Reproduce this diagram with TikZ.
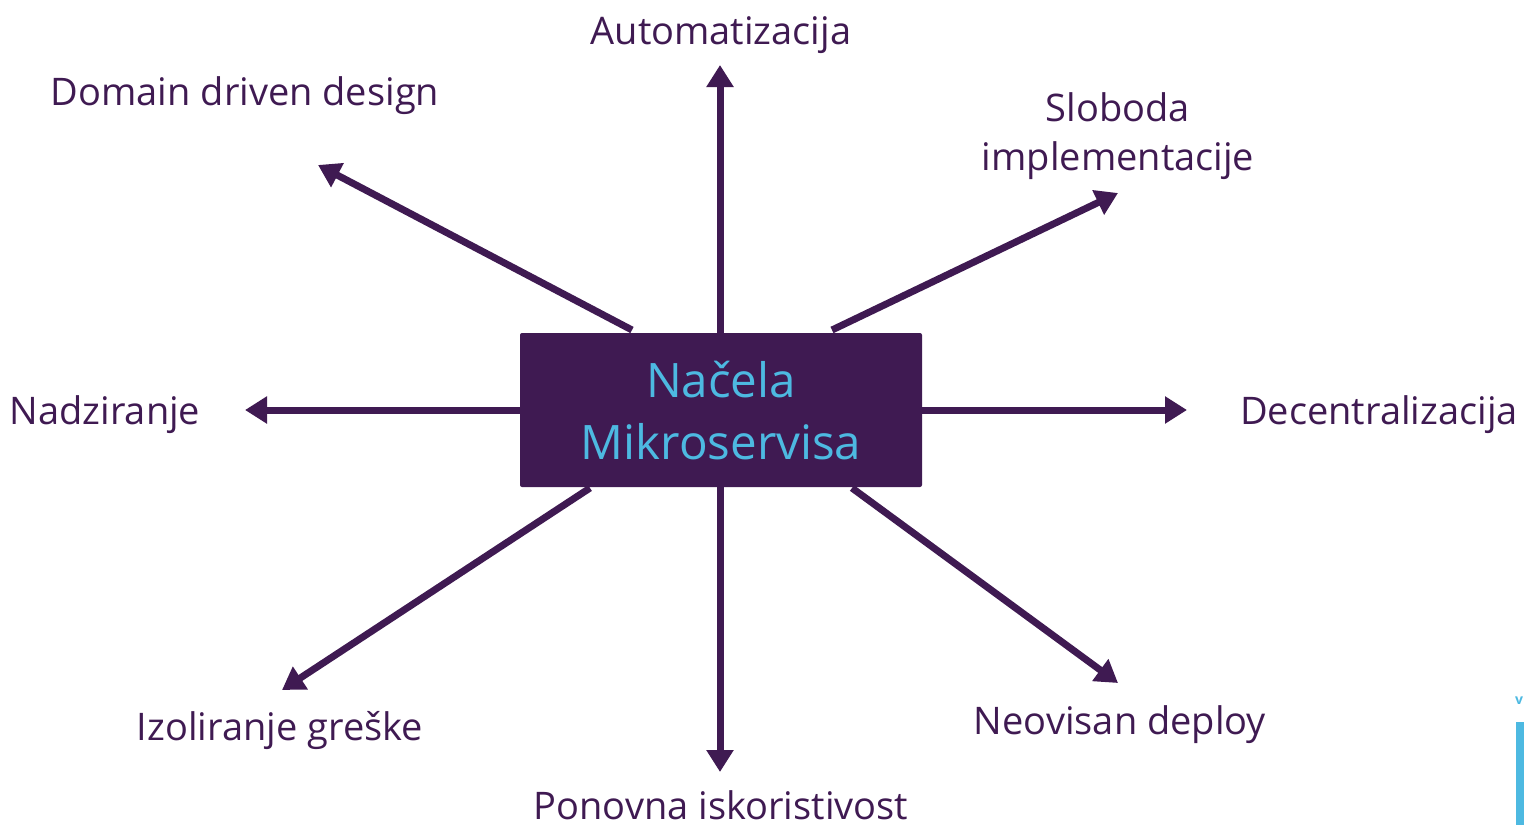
\documentclass[tikz,border=0pt]{standalone}
\usepackage{fontspec}
\setmainfont{Open Sans}
\usetikzlibrary{arrows.meta}
\definecolor{dpurple}{HTML}{3F1A52}
\definecolor{lblue}{HTML}{4DB9E1}
\begin{document}
\begin{tikzpicture}[x=1pt,y=-1pt,
  lbl/.style={font=\fontsize{38}{46}\selectfont, text=dpurple, anchor=base, inner sep=0pt, align=center},
  ctr/.style={font=\fontsize{47.5}{58}\selectfont, text=lblue, anchor=base, inner sep=0pt},
  arr/.style={draw=dpurple, line width=7pt, -{Triangle[length=22pt,width=26pt]}}]
\useasboundingbox (0,0) rectangle (1524,825);
\node[fill=dpurple, rounded corners=2pt, minimum width=402pt, minimum height=154pt, inner sep=0pt] (box) at (721,410) {};
\node[ctr] (t1) at (721,397) {Načela};
\node[ctr] (t2) at (721,459) {Mikroservisa};
% labels
\node[lbl] (auto) at (721,44) {Automatizacija};
\node[lbl] (ddd) at (245,105) {Domain driven design};
\node[lbl] (slob1) at (1118,121) {Sloboda};
\node[lbl] (slob2) at (1118,170) {implementacije};
\node[lbl] (nadz) at (105,424) {Nadziranje};
\node[lbl] (dec) at (1379,424) {Decentralizacija};
\node[lbl] (izol) at (280,740) {Izoliranje greške};
\node[lbl] (neo) at (1120,734) {Neovisan deploy};
\node[lbl] (pon) at (721,819) {Ponovna iskoristivost};
% coordinates
\coordinate (sN) at (720,333);
\coordinate (eN) at (720,65);
\coordinate (sNW) at (632,330);
\coordinate (eNW) at (318,165);
\coordinate (sNE) at (832,330);
\coordinate (eNE) at (1118,193);
\coordinate (sW) at (520,410);
\coordinate (eW) at (245,410);
\coordinate (sE) at (922,410);
\coordinate (eE) at (1187,410);
\coordinate (sSW) at (590,488);
\coordinate (eSW) at (282,690);
\coordinate (sS) at (720,487);
\coordinate (eS) at (720,772);
\coordinate (sSE) at (852,488);
\coordinate (eSE) at (1118,683);
\foreach \d in {N,NW,NE,W,E,SW,S,SE}{\draw[arr] (s\d) -- (e\d);}
% cropped fragment at the right edge
\fill[lblue] (1516,722) rectangle (1524,825);
\node[font=\fontsize{14}{14}\selectfont\bfseries, text=lblue, anchor=base west, inner sep=0pt] (frag) at (1515,704) {v};
\end{tikzpicture}
\end{document}
